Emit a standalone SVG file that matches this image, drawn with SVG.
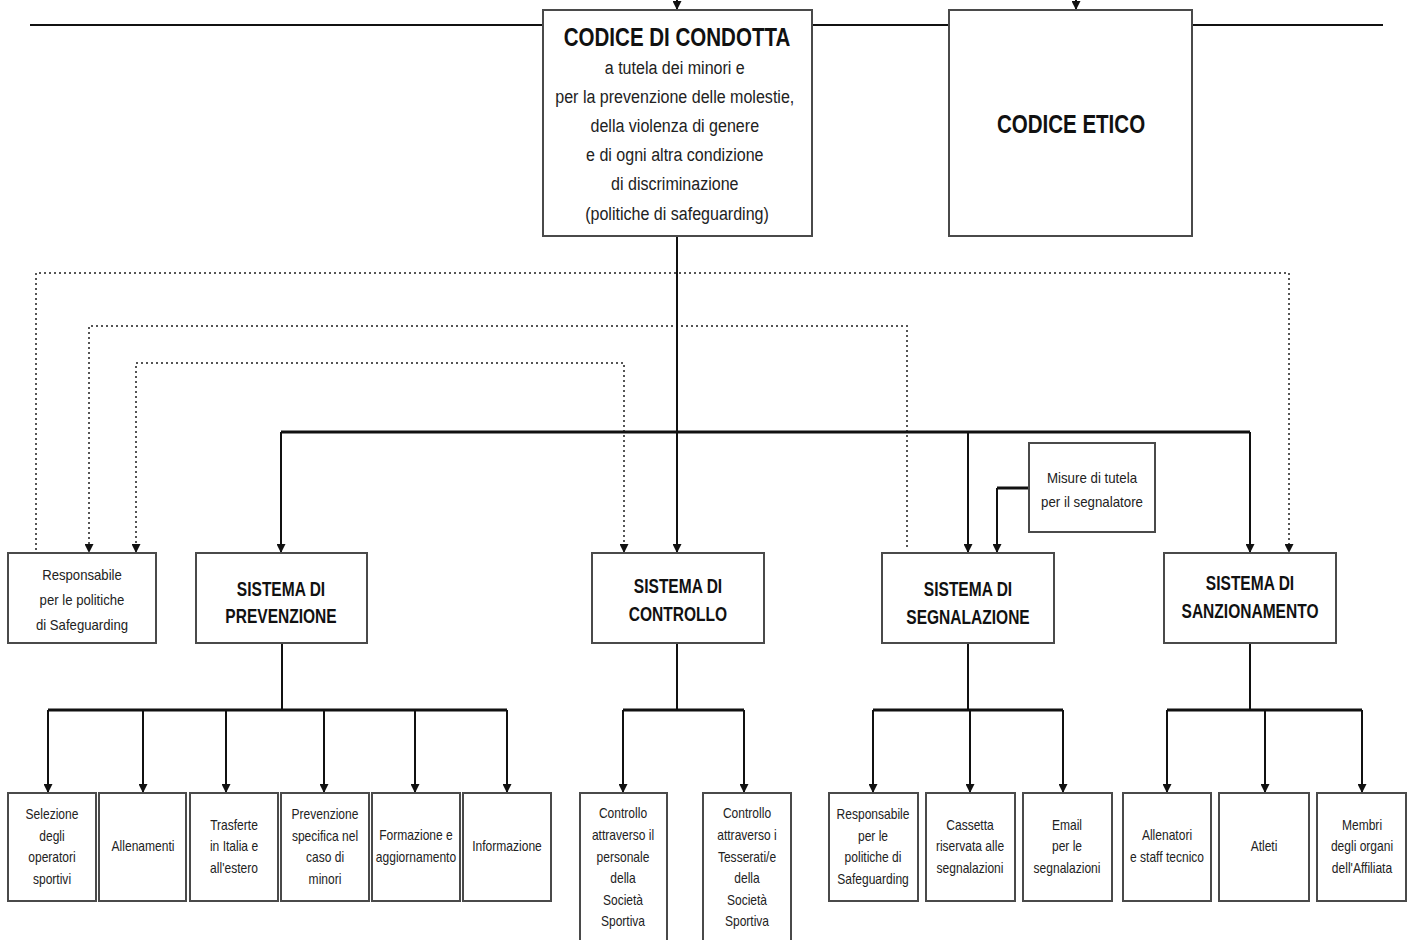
<svg xmlns="http://www.w3.org/2000/svg" width="1412" height="940" viewBox="0 0 1412 940">
<defs>
<style>
.bx{fill:#fff;stroke:#4a4a4a;stroke-width:2}
.ln{fill:none;stroke:#111;stroke-width:2}
.bar{fill:none;stroke:#111;stroke-width:3}
.dt{fill:none;stroke:#555;stroke-width:2;stroke-dasharray:2 3}
.t{font-family:"Liberation Sans",Arial,sans-serif;font-size:14px;fill:#222;text-anchor:middle}
.st{font-family:"Liberation Sans",Arial,sans-serif;font-size:19px;fill:#222;text-anchor:middle}
.h{font-family:"Liberation Sans",Arial,sans-serif;font-size:21px;font-weight:bold;fill:#111;text-anchor:middle}
.H{font-family:"Liberation Sans",Arial,sans-serif;font-size:26px;font-weight:bold;fill:#111;text-anchor:middle}
</style>
<marker id="ah" viewBox="0 0 10 10" refX="10" refY="5" markerWidth="10" markerHeight="9" markerUnits="userSpaceOnUse" orient="auto-start-reverse">
<path d="M0,0 L10,5 L0,10 z" fill="#111"/>
</marker>
</defs>
<rect width="1412" height="940" fill="#fff"/>
<g id="connectors">
<path class="ln" d="M30,25 H1383"/>
<path class="ln" d="M677,0 V10" marker-end="url(#ah)"/>
<path class="ln" d="M1076,0 V10" marker-end="url(#ah)"/>
<path class="dt" d="M36,550 V273 H1289 V553" marker-end="url(#ah)"/>
<path class="dt" d="M907,547 V326 H89 V553" marker-end="url(#ah)"/>
<path class="dt" d="M136,553 V363 H624 V553" marker-start="url(#ah)" marker-end="url(#ah)"/>
<path class="ln" d="M677,236 V553" marker-end="url(#ah)"/>
<path class="bar" d="M281,432 H1250"/>
<path class="ln" d="M281,432 V553" marker-end="url(#ah)"/>
<path class="ln" d="M968,432 V553" marker-end="url(#ah)"/>
<path class="ln" d="M1250,432 V553" marker-end="url(#ah)"/>
<path class="bar" d="M1029,488 H997"/>
<path class="ln" d="M997,488 V553" marker-end="url(#ah)"/>
<path class="ln" d="M282,643 V710"/>
<path class="bar" d="M48,710 H507"/>
<path class="ln" d="M48,710 V793" marker-end="url(#ah)"/>
<path class="ln" d="M143,710 V793" marker-end="url(#ah)"/>
<path class="ln" d="M226,710 V793" marker-end="url(#ah)"/>
<path class="ln" d="M324,710 V793" marker-end="url(#ah)"/>
<path class="ln" d="M415,710 V793" marker-end="url(#ah)"/>
<path class="ln" d="M507,710 V793" marker-end="url(#ah)"/>
<path class="ln" d="M677,643 V710"/>
<path class="bar" d="M623,710 H744"/>
<path class="ln" d="M623,710 V793" marker-end="url(#ah)"/>
<path class="ln" d="M744,710 V793" marker-end="url(#ah)"/>
<path class="ln" d="M968,643 V710"/>
<path class="bar" d="M873,710 H1063"/>
<path class="ln" d="M873,710 V793" marker-end="url(#ah)"/>
<path class="ln" d="M970,710 V793" marker-end="url(#ah)"/>
<path class="ln" d="M1063,710 V793" marker-end="url(#ah)"/>
<path class="ln" d="M1250,643 V710"/>
<path class="bar" d="M1167,710 H1362"/>
<path class="ln" d="M1167,710 V793" marker-end="url(#ah)"/>
<path class="ln" d="M1265,710 V793" marker-end="url(#ah)"/>
<path class="ln" d="M1362,710 V793" marker-end="url(#ah)"/>
</g>
<g id="codice_condotta">
<rect class="bx" x="543" y="10" width="269" height="226"/>
<text class="H" transform="matrix(0.79 0 0 1 677 0)" x="0" y="46">CODICE DI CONDOTTA</text>
<text class="st" transform="matrix(0.845 0 0 1 677 0)">
<tspan x="0" y="74">a tutela dei minori e</tspan>
<tspan x="0" y="103">per la prevenzione delle molestie,</tspan>
<tspan x="0" y="132">della violenza di genere</tspan>
<tspan x="0" y="161">e di ogni altra condizione</tspan>
<tspan x="0" y="190">di discriminazione</tspan>
<tspan x="0" y="220">(politiche di safeguarding)</tspan>
</text>
</g>
<g id="codice_etico">
<rect class="bx" x="949" y="10" width="243" height="226"/>
<text class="H" transform="matrix(0.79 0 0 1 1071 0)" x="0" y="133">CODICE ETICO</text>
</g>
<g id="responsabile">
<rect class="bx" x="8" y="553" width="148" height="90"/>
<text class="t" transform="matrix(0.94 0 0 1 82 0)"><tspan x="0" y="580">Responsabile</tspan><tspan x="0" y="605">per le politiche</tspan><tspan x="0" y="630">di Safeguarding</tspan></text>
</g>
<g id="sistema_prevenzione">
<rect class="bx" x="196" y="553" width="171" height="90"/>
<text class="h" transform="matrix(0.74 0 0 1 281 0)"><tspan x="0" y="596">SISTEMA DI</tspan><tspan x="0" y="623">PREVENZIONE</tspan></text>
</g>
<g id="sistema_controllo">
<rect class="bx" x="592" y="553" width="172" height="90"/>
<text class="h" transform="matrix(0.74 0 0 1 678 0)"><tspan x="0" y="593">SISTEMA DI</tspan><tspan x="0" y="621">CONTROLLO</tspan></text>
</g>
<g id="sistema_segnalazione">
<rect class="bx" x="882" y="553" width="172" height="90"/>
<text class="h" transform="matrix(0.74 0 0 1 968 0)"><tspan x="0" y="596">SISTEMA DI</tspan><tspan x="0" y="624">SEGNALAZIONE</tspan></text>
</g>
<g id="sistema_sanzionamento">
<rect class="bx" x="1164" y="553" width="172" height="90"/>
<text class="h" transform="matrix(0.74 0 0 1 1250 0)"><tspan x="0" y="590">SISTEMA DI</tspan><tspan x="0" y="618">SANZIONAMENTO</tspan></text>
</g>
<g id="misure_tutela">
<rect class="bx" x="1029" y="443" width="126" height="89"/>
<text class="t" transform="matrix(0.95 0 0 1 1092 0)"><tspan x="0" y="483">Misure di tutela</tspan><tspan x="0" y="507">per il segnalatore</tspan></text>
</g>
<g id="selezione">
<rect class="bx" x="8" y="793" width="88" height="108"/>
<text class="t" transform="matrix(0.86 0 0 1 52 0)"><tspan x="0" y="819">Selezione</tspan><tspan x="0" y="841">degli</tspan><tspan x="0" y="862">operatori</tspan><tspan x="0" y="884">sportivi</tspan></text>
</g>
<g id="allenamenti">
<rect class="bx" x="99" y="793" width="87" height="108"/>
<text class="t" transform="matrix(0.86 0 0 1 143 0)"><tspan x="0" y="851">Allenamenti</tspan></text>
</g>
<g id="trasferte">
<rect class="bx" x="190" y="793" width="88" height="108"/>
<text class="t" transform="matrix(0.86 0 0 1 234 0)"><tspan x="0" y="830">Trasferte</tspan><tspan x="0" y="851">in Italia e</tspan><tspan x="0" y="873">all'estero</tspan></text>
</g>
<g id="prevenzione_minori">
<rect class="bx" x="281" y="793" width="88" height="108"/>
<text class="t" transform="matrix(0.86 0 0 1 325 0)"><tspan x="0" y="819">Prevenzione</tspan><tspan x="0" y="841">specifica nel</tspan><tspan x="0" y="862">caso di</tspan><tspan x="0" y="884">minori</tspan></text>
</g>
<g id="formazione">
<rect class="bx" x="372" y="793" width="88" height="108"/>
<text class="t" transform="matrix(0.86 0 0 1 416 0)"><tspan x="0" y="840">Formazione e</tspan><tspan x="0" y="862">aggiornamento</tspan></text>
</g>
<g id="informazione">
<rect class="bx" x="463" y="793" width="88" height="108"/>
<text class="t" transform="matrix(0.86 0 0 1 507 0)"><tspan x="0" y="851">Informazione</tspan></text>
</g>
<g id="controllo_personale">
<rect class="bx" x="580" y="793" width="87" height="160"/>
<text class="t" transform="matrix(0.86 0 0 1 623 0)"><tspan x="0" y="818">Controllo</tspan><tspan x="0" y="840">attraverso il</tspan><tspan x="0" y="862">personale</tspan><tspan x="0" y="883">della</tspan><tspan x="0" y="905">Società</tspan><tspan x="0" y="926">Sportiva</tspan></text>
</g>
<g id="controllo_tesserati">
<rect class="bx" x="703" y="793" width="88" height="160"/>
<text class="t" transform="matrix(0.86 0 0 1 747 0)"><tspan x="0" y="818">Controllo</tspan><tspan x="0" y="840">attraverso i</tspan><tspan x="0" y="862">Tesserati/e</tspan><tspan x="0" y="883">della</tspan><tspan x="0" y="905">Società</tspan><tspan x="0" y="926">Sportiva</tspan></text>
</g>
<g id="responsabile_segnalazione">
<rect class="bx" x="829" y="793" width="89" height="108"/>
<text class="t" transform="matrix(0.86 0 0 1 873 0)"><tspan x="0" y="819">Responsabile</tspan><tspan x="0" y="841">per le</tspan><tspan x="0" y="862">politiche di</tspan><tspan x="0" y="884">Safeguarding</tspan></text>
</g>
<g id="cassetta">
<rect class="bx" x="926" y="793" width="89" height="108"/>
<text class="t" transform="matrix(0.86 0 0 1 970 0)"><tspan x="0" y="830">Cassetta</tspan><tspan x="0" y="851">riservata alle</tspan><tspan x="0" y="873">segnalazioni</tspan></text>
</g>
<g id="email">
<rect class="bx" x="1023" y="793" width="89" height="108"/>
<text class="t" transform="matrix(0.86 0 0 1 1067 0)"><tspan x="0" y="830">Email</tspan><tspan x="0" y="851">per le</tspan><tspan x="0" y="873">segnalazioni</tspan></text>
</g>
<g id="allenatori">
<rect class="bx" x="1123" y="793" width="88" height="108"/>
<text class="t" transform="matrix(0.86 0 0 1 1167 0)"><tspan x="0" y="840">Allenatori</tspan><tspan x="0" y="862">e staff tecnico</tspan></text>
</g>
<g id="atleti">
<rect class="bx" x="1219" y="793" width="90" height="108"/>
<text class="t" transform="matrix(0.86 0 0 1 1264 0)"><tspan x="0" y="851">Atleti</tspan></text>
</g>
<g id="membri">
<rect class="bx" x="1317" y="793" width="89" height="108"/>
<text class="t" transform="matrix(0.86 0 0 1 1362 0)"><tspan x="0" y="830">Membri</tspan><tspan x="0" y="851">degli organi</tspan><tspan x="0" y="873">dell'Affiliata</tspan></text>
</g>
</svg>
